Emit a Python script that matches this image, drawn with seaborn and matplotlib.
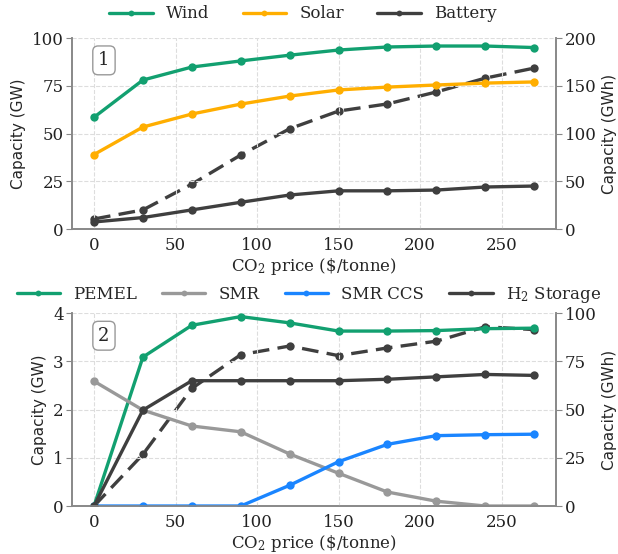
import numpy as np
import pandas as pd
import seaborn as sns
import matplotlib.pyplot as plt

# CO2 price steps ($/tonne)
co2_price = [0, 30, 60, 90, 120, 150, 180, 210, 240, 270]

# panel 1: power system
wind = [58.5, 78, 84.8, 88, 91, 93.7, 95.3, 95.8, 95.8, 95]
solar = [39, 53.4, 60.2, 65.4, 69.6, 72.8, 74.3, 75.4, 76.4, 77]
battery_gw = [3.7, 6, 10, 14, 17.8, 20, 20, 20.4, 22, 22.5]
battery_gwh = [10.5, 20, 47, 77.5, 105, 123.5, 131, 143.5, 158, 168.5]

# panel 2: hydrogen
pemel = [0, 3.09, 3.75, 3.93, 3.8, 3.63, 3.63, 3.64, 3.68, 3.69]
smr = [2.59, 1.99, 1.66, 1.54, 1.08, 0.68, 0.29, 0.1, 0.0, 0.0]
smr_ccs = [0, 0, 0, 0, 0.43, 0.92, 1.28, 1.46, 1.48, 1.49]
h2_gw = [0, 1.99, 2.6, 2.6, 2.6, 2.6, 2.63, 2.68, 2.73, 2.71]
h2_gwh = [0, 26.8, 61, 78.5, 83, 78, 82, 85.5, 93, 91.5]

c_green = "#12a070"
c_orange = "#ffae00"
c_dark = "#3f3f3f"
c_gray = "#999999"
c_blue = "#1a85ff"

sns.set_style("whitegrid")
plt.rcParams["font.family"] = ["DejaVu Serif"]
plt.rcParams["mathtext.fontset"] = "dejavuserif"

fig = plt.figure(figsize=(6.18, 5.54), dpi=100)
ax1 = fig.add_axes([0.1165, 0.5866, 0.7835, 0.3448])
ax2 = fig.add_axes([0.1165, 0.0866, 0.7835, 0.348])

lw = 2.4
ms = 6


def style_axes(ax, twin):
    for a in (ax, twin):
        a.grid(False)
        for s in a.spines.values():
            s.set_color("#888888")
            s.set_linewidth(1.2)
        a.spines["top"].set_visible(False)
        a.tick_params(labelsize=12, length=4, color="#888888", pad=2, labelcolor="#222222")
    ax.grid(True, ls="--", color="#dddddd", lw=0.8)
    ax.set_xlim(-13.5, 283.5)
    ax.set_xticks([0, 50, 100, 150, 200, 250])
    ax.set_xlabel("CO$_2$ price (\\$/tonne)", fontsize=12, labelpad=1)
    ax.set_zorder(twin.get_zorder() + 1)
    ax.patch.set_visible(False)


def draw(ax, y, color, label, ls="-"):
    sns.lineplot(x=co2_price, y=y, ax=ax, color=color, lw=lw, ls=ls,
                 marker="o", markersize=ms, markeredgewidth=0, label=label,
                 legend=False)


# ---- panel 1
tw1 = ax1.twinx()
draw(tw1, battery_gwh, c_dark, None, ls=(0, (5, 2.5)))
draw(ax1, wind, c_green, "Wind")
draw(ax1, solar, c_orange, "Solar")
draw(ax1, battery_gw, c_dark, "Battery")
ax1.set_ylim(0, 100)
ax1.set_yticks([0, 25, 50, 75, 100])
tw1.set_ylim(0, 200)
tw1.set_yticks([0, 50, 100, 150, 200])
ax1.set_ylabel("Capacity (GW)", fontsize=11, family="DejaVu Sans", labelpad=4)
tw1.set_ylabel("Capacity (GWh)", fontsize=11, family="DejaVu Sans", labelpad=4)
style_axes(ax1, tw1)
ax1.text(0.066, 0.93, "1", transform=ax1.transAxes, fontsize=13, ha="center", va="top",
         bbox=dict(boxstyle="round,pad=0.3", fc="white", ec="#999999", lw=1))
h, l = ax1.get_legend_handles_labels()
fig.legend(h, l, loc="center", bbox_to_anchor=(0.49, 0.975), ncol=3, frameon=False,
           fontsize=12, handlelength=2.6, columnspacing=2.0, handletextpad=0.8,
           markerscale=0.7)

# ---- panel 2
tw2 = ax2.twinx()
draw(tw2, h2_gwh, c_dark, None, ls=(0, (5, 2.5)))
draw(ax2, pemel, c_green, "PEMEL")
draw(ax2, smr, c_gray, "SMR")
draw(ax2, smr_ccs, c_blue, "SMR CCS")
draw(ax2, h2_gw, c_dark, "H$_2$ Storage")
ax2.set_ylim(0, 4)
ax2.set_yticks([0, 1, 2, 3, 4])
tw2.set_ylim(0, 100)
tw2.set_yticks([0, 25, 50, 75, 100])
ax2.set_ylabel("Capacity (GW)", fontsize=11, family="DejaVu Sans", labelpad=4)
tw2.set_ylabel("Capacity (GWh)", fontsize=11, family="DejaVu Sans", labelpad=4)
style_axes(ax2, tw2)
ax2.text(0.066, 0.93, "2", transform=ax2.transAxes, fontsize=13, ha="center", va="top",
         bbox=dict(boxstyle="round,pad=0.3", fc="white", ec="#999999", lw=1))
h, l = ax2.get_legend_handles_labels()
fig.legend(h, l, loc="center", bbox_to_anchor=(0.5, 0.467), ncol=4, frameon=False,
           fontsize=12, handlelength=2.6, columnspacing=1.5, handletextpad=0.8,
           markerscale=0.7)

fig.savefig("out.png", dpi=100)
